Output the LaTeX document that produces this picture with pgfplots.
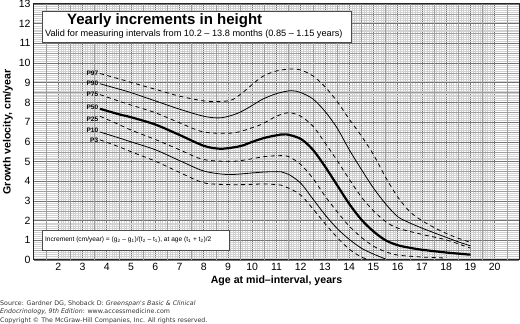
\documentclass[border=0pt]{standalone}
\usepackage{pgfplots}
\pgfplotsset{compat=1.18}
\usepackage{fontspec}
\setmainfont{Liberation Sans}
\newfontfamily\srcfont{DejaVu Sans}
\begin{document}
\begin{tikzpicture}
\useasboundingbox (0,0) rectangle (520pt,324pt);
\begin{axis}[
  at={(34pt,64pt)}, anchor=south west,
  scale only axis, width=485pt, height=256pt,
  xmin=1, xmax=21, ymin=0, ymax=13,
  xtick={2,...,20}, ytick={0,...,13},
  minor x tick num=9, minor y tick num=9,
  grid=both,
  major grid style={black!55, line width=0.6pt},
  minor grid style={black!18, line width=0.15pt},
  extra x ticks={1.5,2.5,...,20.5},
  extra y ticks={0.5,1.5,...,12.5},
  extra x tick labels={}, extra y tick labels={},
  extra tick style={grid=major, major grid style={black!38, line width=0.35pt}},
  tick style={draw=none},
  major tick length=0pt, minor tick length=0pt,
  axis line style={black!85, line width=1pt},
  tick label style={font=\fontsize{10.5}{11}\selectfont},
  /pgf/number format/assume math mode=true,
  xlabel={\bfseries Age at mid--interval, years},
  ylabel={\bfseries Growth velocity, cm/year},
  label style={font=\fontsize{10.6}{12}\selectfont},
  xlabel style={yshift=2pt},
  ylabel style={yshift=-1pt},
]
% P97
\addplot[smooth, black, line width=0.8pt, dash pattern=on 4pt off 3.5pt] coordinates {
(3.72,9.47) (4.5,9.2) (5,9.02) (6,8.67) (7,8.32) (8,8.08) (8.7,8.05) (9.2,8.15) (9.7,8.6) (10.4,9.3) (11,9.6) (11.6,9.7) (12,9.65) (12.5,9.35) (13,8.8) (13.5,8.05) (14,7.15) (14.5,6.3) (15,5.35) (15.5,4.2) (16,3.2) (16.5,2.45) (17,2.0) (17.5,1.65) (18,1.35) (18.5,1.1) (19,0.9)};
% P90
\addplot[smooth, black, line width=0.8pt] coordinates {
(3.72,8.95) (4.5,8.68) (5,8.5) (6,8.08) (7,7.66) (8,7.3) (8.7,7.22) (9.4,7.45) (10,7.85) (10.4,8.15) (11,8.45) (11.6,8.6) (12,8.5) (12.5,8.18) (13,7.55) (13.5,6.7) (14,5.6) (14.5,4.6) (15,3.65) (15.5,2.85) (16,2.2) (16.5,1.88) (17,1.62) (17.5,1.38) (18,1.15) (18.5,0.92) (19,0.72)};
% P75
\addplot[smooth, black, line width=0.8pt, dash pattern=on 4pt off 3.5pt] coordinates {
(3.72,8.4) (4.5,8.07) (5,7.87) (6,7.48) (7,6.97) (8,6.5) (9.2,6.45) (10,6.72) (10.4,6.9) (11,7.3) (11.5,7.48) (12,7.3) (12.5,6.8) (13,5.95) (13.5,5.05) (14,4.1) (14.5,3.2) (15,2.5) (15.5,1.95) (16,1.62) (17,1.3) (18,1.02) (19,0.6)};
% P50
\addplot[smooth, black, line width=2.2pt] coordinates {
(3.72,7.68) (4.5,7.4) (5,7.25) (6,6.88) (7,6.35) (8,5.8) (8.7,5.65) (9.5,5.78) (10,6.0) (10.5,6.2) (11,6.33) (11.4,6.38) (12,6.15) (12.5,5.6) (13,4.75) (13.5,3.8) (14,2.85) (14.5,2.05) (15,1.45) (15.5,1.0) (16,0.75) (16.5,0.62) (17,0.52) (18,0.38) (19,0.27)};
% P25
\addplot[smooth, black, line width=0.8pt, dash pattern=on 4pt off 3.5pt] coordinates {
(3.72,7.3) (4.5,6.88) (5,6.6) (6,6.12) (7,5.6) (8,5.1) (9.3,5.02) (10.5,5.25) (11.2,5.3) (11.5,5.25) (12,4.85) (12.5,4.15) (13,3.25) (13.5,2.45) (14,1.72) (14.5,1.15) (15,0.7) (15.5,0.42) (16,0.25) (17,0.15) (18,0.1)};
% P10
\addplot[smooth, black, line width=0.8pt] coordinates {
(3.72,6.5) (4.5,6.2) (5,6.0) (6,5.6) (7,5.05) (8,4.52) (9,4.34) (10,4.42) (10.5,4.47) (11.2,4.48) (11.5,4.35) (12,3.9) (12.5,3.1) (13,2.3) (13.5,1.6) (14,1.05) (14.5,0.6) (15,0.3) (15.5,0.05)};
% P3
\addplot[smooth, black, line width=0.8pt, dash pattern=on 4pt off 3.5pt] coordinates {
(3.72,6.1) (4.5,5.75) (5,5.5) (6,5.02) (7,4.45) (8,3.92) (9,3.83) (9.7,3.83) (10.5,3.86) (11.2,3.8) (11.5,3.65) (12,3.3) (12.5,2.6) (13,1.85) (13.5,1.15) (14,0.55) (14.5,0.15) (14.8,0.02)};
% labels
\begin{scope}[every node/.style={anchor=east, inner sep=0.6pt, font=\fontsize{6.5}{7}\selectfont\bfseries}]
\node at (axis cs:3.68,9.47) {P97};
\node at (axis cs:3.68,8.96) {P90};
\node at (axis cs:3.68,8.42) {P75};
\node at (axis cs:3.68,7.77) {P50};
\node at (axis cs:3.68,7.14) {P25};
\node at (axis cs:3.68,6.6) {P10};
\node at (axis cs:3.68,6.07) {P3};
\end{scope}
% title box
\draw[black!70, line width=0.5pt, fill=white] (axis cs:1.33,11.07) rectangle (axis cs:14.1,12.65);
\node[anchor=west, inner sep=0pt, font=\fontsize{15}{17}\selectfont\bfseries] at (axis cs:2.36,12.14) {Yearly increments in height};
\node[anchor=west, inner sep=0pt, font=\fontsize{9.2}{10}\selectfont] at (axis cs:1.45,11.47) {Valid for measuring intervals from 10.2 -- 13.8 months (0.85 -- 1.15 years)};
% formula box
\draw[black!70, line width=0.5pt, fill=white] (axis cs:1.33,0.51) rectangle (axis cs:9.07,1.53);
\node[anchor=west, inner sep=0pt, font=\fontsize{6.6}{8}\selectfont] at (axis cs:1.45,1.02) {Increment (cm/year) = (g\textsubscript{2} -- g\textsubscript{1})/(t\textsubscript{2} -- t\textsubscript{1}), at age (t\textsubscript{1} + t\textsubscript{2})/2};
\end{axis}
\begin{scope}[every node/.style={anchor=base west, inner sep=0pt, text=black!80, font=\srcfont\fontsize{6.3}{7}\selectfont}]
\node at (0pt,18.5pt) {Source: Gardner DG, Shoback D: \textit{Greenspan's Basic \& Clinical}};
\node at (0pt,10pt) {\textit{Endocrinology, 9th Edition}: www.accessmedicine.com};
\node at (0pt,1.5pt) {Copyright \textcopyright{} The McGraw-Hill Companies, Inc. All rights reserved.};
\end{scope}
\end{tikzpicture}
\end{document}
